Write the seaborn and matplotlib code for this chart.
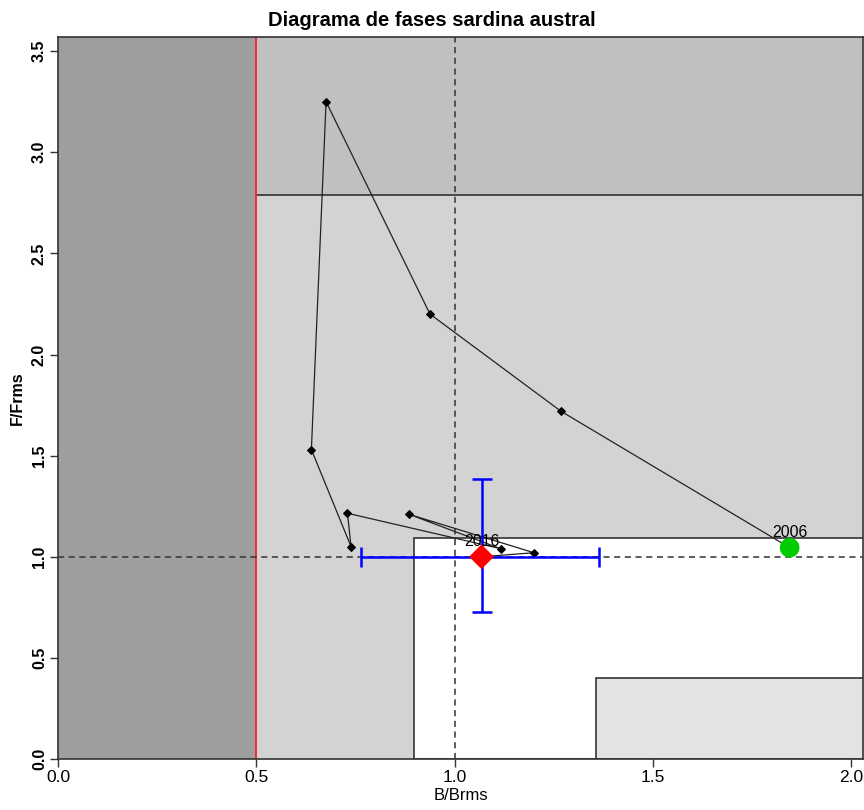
import matplotlib
matplotlib.use("Agg")
import matplotlib.pyplot as plt
import seaborn as sns
import pandas as pd
from matplotlib.patches import Rectangle

# trajectory 2006 -> 2016 (B/Brms, F/Frms)
years = [2006, 2007, 2008, 2009, 2010, 2011, 2012, 2013, 2014, 2015, 2016]
b_ratio = [1.845, 1.268, 0.938, 0.676, 0.639, 0.739, 0.730, 1.116, 0.885, 1.200, 1.068]
f_ratio = [1.045, 1.72, 2.20, 3.25, 1.53, 1.05, 1.215, 1.04, 1.21, 1.02, 1.0]

# uncertainty for last year
b_ci = [0.765, 1.364]
f_ci = [0.726, 1.383]

# reference points / zones
b_lim = 0.5
b_target = 1.0
f_target = 1.0
f_over = 2.79
green_zone = (0.897, 1.095)   # x start, y top
yellow_zone = (1.356, 0.40)

df = pd.DataFrame({"year": years, "B": b_ratio, "F": f_ratio})

sns.set_theme(style="white")
plt.rcParams['font.family'] = ['Liberation Sans', 'DejaVu Sans']
plt.rcParams['text.color'] = 'black'
plt.rcParams['xtick.color'] = 'black'
plt.rcParams['ytick.color'] = 'black'
plt.rcParams['axes.labelcolor'] = 'black'

fig = plt.figure(figsize=(8.64, 8.10), dpi=100)
ax = fig.add_axes([58/864, 1 - 759/810, (863 - 58)/864, (759 - 37)/810])

xmax, ymax = 2.03, 3.57
ax.set_xlim(0, xmax)
ax.set_ylim(0, ymax)

# background zones
ax.add_patch(Rectangle((0, 0), b_lim, ymax, facecolor='#9e9e9e', edgecolor='none', zorder=0))
ax.add_patch(Rectangle((b_lim, 0), xmax - b_lim, f_over, facecolor='#d3d3d3', edgecolor='none', zorder=0))
ax.add_patch(Rectangle((b_lim, f_over), xmax - b_lim, ymax - f_over, facecolor='#c0c0c0', edgecolor='none', zorder=0))
ax.plot([b_lim, xmax], [f_over, f_over], color='#333333', lw=1.2, zorder=1)
ax.add_patch(Rectangle((green_zone[0], 0), xmax - green_zone[0] + 0.1, green_zone[1],
                       facecolor='white', edgecolor='#333333', lw=1.2, zorder=1))
ax.add_patch(Rectangle((yellow_zone[0], 0), xmax - yellow_zone[0] + 0.1, yellow_zone[1],
                       facecolor='#e3e3e3', edgecolor='#333333', lw=1.2, zorder=1))
ax.axvline(b_lim, color='#ff2020', lw=1.3, zorder=2)

# reference dashed lines
ax.axvline(b_target, color='#333333', lw=1.1, ls=(0, (4, 3)), zorder=2)
ax.axhline(f_target, color='#333333', lw=1.1, ls=(0, (4, 3)), zorder=2)

# trajectory
sns.lineplot(data=df, x="B", y="F", sort=False, estimator=None, color='#222222',
             lw=0.9, marker='D', markersize=4.5, markeredgecolor='black',
             markerfacecolor='black', ax=ax, zorder=3)

# error bars for last year
last = df.iloc[-1]
ax.errorbar(last["B"], last["F"],
            xerr=[[last["B"] - b_ci[0]], [b_ci[1] - last["B"]]],
            yerr=[[last["F"] - f_ci[0]], [f_ci[1] - last["F"]]],
            fmt='none', ecolor='#0000ff', elinewidth=1.8, capsize=7, capthick=1.8, zorder=4)

sns.scatterplot(x=[df["B"].iloc[0]], y=[df["F"].iloc[0]], color='#00cc00', s=200,
                marker='o', edgecolor='none', ax=ax, zorder=5)
sns.scatterplot(x=[last["B"]], y=[last["F"]], color='#ff0000', s=160,
                marker='D', edgecolor='none', ax=ax, zorder=5)

ax.text(df["B"].iloc[0], df["F"].iloc[0] + 0.04, str(years[0]), ha='center', va='bottom',
        fontsize=11.5, color='black', zorder=6)
ax.text(last["B"], last["F"] + 0.04, str(years[-1]), ha='center', va='bottom',
        fontsize=11.5, color='black', zorder=6)

# axes styling
ax.set_xticks([0, 0.5, 1.0, 1.5, 2.0])
ax.set_xticklabels(["0.0", "0.5", "1.0", "1.5", "2.0"], fontsize=12.5)
ax.set_yticks([0, 0.5, 1.0, 1.5, 2.0, 2.5, 3.0, 3.5])
ax.set_yticklabels(["0.0", "0.5", "1.0", "1.5", "2.0", "2.5", "3.0", "3.5"],
                   rotation=90, va='center', fontsize=11.5, fontweight='bold')
ax.tick_params(axis='both', direction='out', length=6, width=1, color='#333333',
               bottom=True, left=True, pad=2)
for s in ax.spines.values():
    s.set_color('#333333')
    s.set_linewidth(1.2)

ax.set_xlabel("B/Brms", fontsize=12, labelpad=2)
ax.set_ylabel("F/Frms", fontsize=11.5, fontweight='bold', labelpad=5)
fig.text(0.5, 1 - 20/810, "Diagrama de fases sardina austral", ha='center', va='center',
         fontsize=14.5, fontweight='bold')

fig.savefig("out.png", dpi=100)
